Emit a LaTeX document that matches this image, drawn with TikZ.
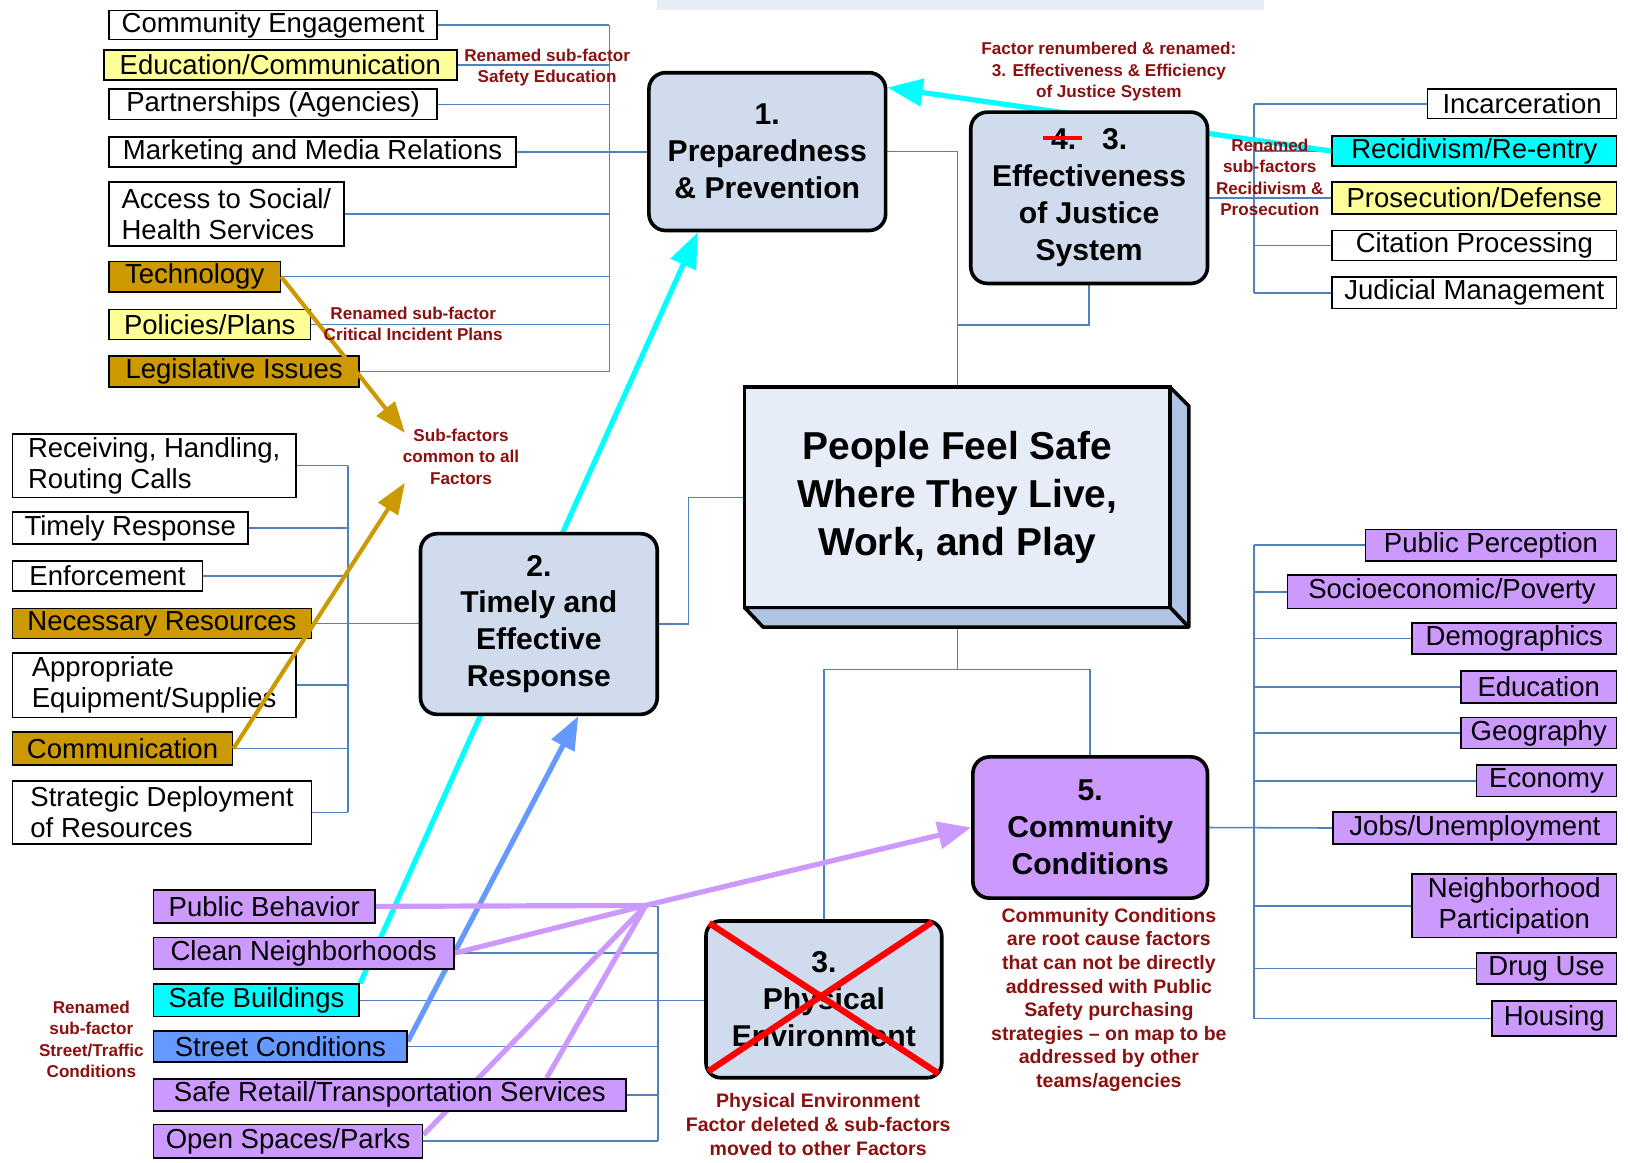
\documentclass[tikz,border=0pt]{standalone}
\usepackage{fontspec}
\setmainfont{Liberation Sans}
\usetikzlibrary{arrows.meta,calc}
\pgfdeclarelayer{bg}
\pgfsetlayers{bg,main}
\definecolor{connc}{HTML}{4F81BD}
\definecolor{yel}{HTML}{FFFF99}
\definecolor{gold}{HTML}{CC9900}
\definecolor{cyanc}{HTML}{00FFFF}
\definecolor{sblue}{HTML}{6699FF}
\definecolor{purp}{HTML}{CC99FF}
\definecolor{facfill}{HTML}{D0DCED}
\definecolor{ctrfill}{HTML}{E7EDF8}
\definecolor{sidec}{HTML}{AFC3E4}
\definecolor{notec}{HTML}{8B1010}
\definecolor{strikec}{HTML}{FF0000}
\newcommand{\mysubfont}{\fontsize{26.5}{30}\selectfont}
\newcommand{\myfacfont}{\fontsize{29}{35.5}\selectfont\bfseries}
\newcommand{\myctrfont}{\fontsize{37.5}{46}\selectfont\bfseries}
\newcommand{\mynotefont}{\fontsize{16.5}{20.7}\selectfont\bfseries}
\newcommand{\mybignotefont}{\fontsize{18.8}{22.7}\selectfont\bfseries}
\tikzset{
  sbx/.style={draw=black, line width=1.6pt, inner sep=0pt, font=\mysubfont, align=center},
  facbox/.style={draw=black, line width=3.5pt, rounded corners=16pt, font=\myfacfont, align=center},
  cline/.style={draw=connc, line width=1.5pt},
  rednote/.style={text=notec, font=\mynotefont, align=center, inner sep=0pt},
  bignote/.style={text=notec, font=\mybignotefont, align=center, inner sep=0pt},
  cyanarrow/.style={draw=cyanc, line width=5pt, -{Triangle[length=34pt,width=26pt]}},
  bluearrow/.style={draw=sblue, line width=5pt, -{Triangle[length=32pt,width=24pt]}},
  purpline/.style={draw=purp, line width=5pt},
  purparrow/.style={draw=purp, line width=5pt, -{Triangle[length=32pt,width=26pt]}},
  goldarrow/.style={draw=gold, line width=4pt, -{Triangle[length=30pt,width=22pt]}},
}
\newcommand{\mybox}[8][]{%
  \pgfmathsetmacro\mbW{#5-#3}%
  \pgfmathsetmacro\mbH{#6-#4}%
  \pgfmathsetmacro\mbX{(#3+#5)/2}%
  \pgfmathsetmacro\mbY{(#4+#6)/2}%
  \node[sbx, fill=#7, minimum width=\mbW pt, minimum height=\mbH pt, #1] (#2) at (\mbX,\mbY) {#8};}
\begin{document}
\begin{tikzpicture}[x=1pt,y=-1pt]
\useasboundingbox (0,0) rectangle (1568,1120);
\fill[ctrfill] (633,0) rectangle (1217,10);

% ---- factor boxes
\mybox[facbox]{f1}{625}{70}{853}{222}{facfill}{1.\\Preparedness\\\& Prevention}
\mybox[facbox]{f2}{405}{514}{633}{688}{facfill}{2.\\Timely and\\Effective\\Response}
\mybox[facbox]{f3}{935}{108}{1163}{273}{facfill}{4.\makebox[0pt][l]{\hspace*{-32pt}\textcolor{strikec}{\rule[10pt]{38pt}{3pt}}}\hspace*{25pt}3.\\Effectiveness\\of Justice\\System}
\mybox[facbox]{cc}{937}{729}{1163}{865}{purp}{5.\\Community\\Conditions}
\mybox[facbox, rounded corners=14pt]{pe}{680}{887}{907}{1038}{facfill}{3.\\Physical\\Environment}
\draw[strikec, line width=6pt] (683,889) -- (904,1034);
\draw[strikec, line width=6pt] (898,888) -- (682,1032);

% ---- centre box with depth
\filldraw[fill=sidec, draw=black, line width=3.5pt, line join=round] (1127,373) -- (1145,391) -- (1145,604) -- (735,604) -- (717,585) -- (1127,585) -- cycle;
\draw[black, line width=3.5pt] (1127,585) -- (1145,604);
\mybox[line width=3.5pt, font=\myctrfont]{ctr}{717}{373}{1127}{585}{ctrfill}{People Feel Safe\\Where They Live,\\Work, and Play}

% ---- sub-factors of factor 1
\mybox{ce}{105}{10}{421}{38}{white}{Community Engagement}
\mybox{ec}{100}{48}{440}{77}{yel}{Education/Communication}
\mybox{pa}{105}{86}{421}{115}{white}{Partnerships (Agencies)}
\mybox{mm}{105}{132}{497}{161}{white}{Marketing and Media Relations}
\mybox[align=left]{as}{105}{175}{331}{237}{white}{Access to Social/\\Health Services}
\mybox{te}{105}{252}{270}{281}{gold}{Technology}
\mybox{pp}{105}{298}{299}{327}{yel}{Policies/Plans}
\mybox{li}{105}{343}{346}{373}{gold}{Legislative Issues}

% ---- sub-factors of factor 2
\mybox[align=left]{rh}{12}{418}{285}{479}{white}{Receiving, Handling,\\Routing Calls}
\mybox{tr}{12}{493}{239}{524}{white}{Timely Response}
\mybox{en}{12}{540}{195}{569}{white}{Enforcement}
\mybox{nr}{12}{586}{300}{615}{gold}{Necessary Resources}
\mybox[align=left]{ae}{12}{629}{285}{691}{white}{Appropriate\\Equipment/Supplies}
\mybox{co}{12}{705}{224}{737}{gold}{Communication}
\mybox[align=left]{sd}{12}{752}{300}{813}{white}{Strategic Deployment\\of Resources}

% ---- former physical environment sub-factors
\mybox{pb}{148}{857}{361}{889}{purp}{Public Behavior}
\mybox{cn}{148}{903}{437}{933}{purp}{Clean Neighborhoods}
\mybox{sb}{148}{948}{346}{979}{cyanc}{Safe Buildings}
\mybox{sc}{148}{993}{392}{1023}{sblue}{Street Conditions}
\mybox{sr}{148}{1039}{603}{1070}{purp}{Safe Retail/Transportation Services}
\mybox{os}{148}{1083}{407}{1115}{purp}{Open Spaces/Parks}

% ---- sub-factors of justice system
\mybox{ic}{1375}{86}{1557}{114}{white}{Incarceration}
\mybox{rr}{1283}{131}{1557}{160}{cyanc}{Recidivism/Re-entry}
\mybox{pd}{1283}{175}{1557}{206}{yel}{Prosecution/Defense}
\mybox{cp}{1283}{222}{1557}{251}{white}{Citation Processing}
\mybox{jm}{1283}{267}{1557}{297}{white}{Judicial Management}

% ---- sub-factors of community conditions
\mybox{pu}{1315}{510}{1557}{540}{purp}{Public Perception}
\mybox{sp}{1240}{554}{1557}{586}{purp}{Socioeconomic/Poverty}
\mybox{de}{1360}{600}{1557}{630}{purp}{Demographics}
\mybox{ed}{1407}{646}{1557}{677}{purp}{Education}
\mybox{ge}{1407}{691}{1557}{721}{purp}{Geography}
\mybox{eo}{1422}{737}{1557}{767}{purp}{Economy}
\mybox{ju}{1284}{782}{1557}{813}{purp}{Jobs/Unemployment}
\mybox{np}{1360}{842}{1557}{903}{purp}{Neighborhood\\Participation}
\mybox{du}{1422}{918}{1557}{948}{purp}{Drug Use}
\mybox{ho}{1437}{964}{1557}{998}{purp}{Housing}

% ---- helper coordinates
\coordinate (b1) at (587,0);
\coordinate (b2) at (335,0);
\coordinate (b3) at (1208,0);
\coordinate (b4) at (634,0);
\coordinate (j1) at (922,645);
\coordinate (j2) at (922,313);
\coordinate (j3) at (663,479);
\coordinate (P) at (622,872);
\coordinate (gt1) at (390,417);
\coordinate (gt2) at (390,465);

\begin{pgfonlayer}{bg}
  % thin connectors
  \foreach \n in {ce,ec,pa,as,te,pp,li} \draw[cline] (\n.east) -- (\n.east -| b1);
  \draw[cline] (ce.east -| b1) -- (li.east -| b1);
  \draw[cline] (mm.east) -- (mm.east -| f1.west);
  \foreach \n in {rh,tr,en,ae,co,sd} \draw[cline] (\n.east) -- (\n.east -| b2);
  \draw[cline] (rh.east -| b2) -- (sd.east -| b2);
  \draw[cline] (nr.east) -- (nr.east -| f2.west);
  \foreach \n in {ic,rr,cp,jm} \draw[cline] (\n.west) -- (\n.west -| b3);
  \draw[cline] (ic.west -| b3) -- (jm.west -| b3);
  \draw[cline] (f3.east) -- (pd.west);
  \foreach \n in {pu,sp,de,ed,ge,eo,np,du,ho} \draw[cline] (\n.west) -- (\n.west -| b3);
  \draw[cline] (pu.west -| b3) -- (ho.west -| b3);
  \draw[cline] (cc.east) -- (ju.west);
  \foreach \n in {pb,cn,sc,sr,os} \draw[cline] (\n.east) -- (\n.east -| b4);
  \draw[cline] (pb.east -| b4) -- (os.east -| b4);
  \draw[cline] (sb.east) -- (sb.east -| pe.west);
  \draw[cline] (f1.east) -| (ctr.north);
  \draw[cline] (f3.south) |- (j2);
  \draw[cline] (f2.east) -| (j3) |- (ctr.west);
  \draw[cline] (ctr.south) -- (j1);
  \draw[cline] (pe.north) |- (j1) -| (cc.north);
  % thick coloured connectors
  \draw[cyanarrow] (sb.north east) -- ([xshift=-67pt]f1.south);
  \draw[cyanarrow] (rr.west) -- ([yshift=-16pt]f1.north east);
  \draw[bluearrow] ([yshift=5pt]sc.east) -- ([xshift=38pt]f2.south);
  \draw[purpline] (pb.east) -- (P);
  \draw[purpline] (cn.east) -- (P);
  \draw[purpline] ([xshift=151pt]sr.north) -- (P);
  \draw[purpline] ([yshift=6pt]os.east) -- (P);
  \draw[purparrow] (P) -- (cc.west);
\end{pgfonlayer}

% ---- gold arrows
\draw[goldarrow] (te.east) -- (gt1);
\draw[goldarrow] (co.east) -- (gt2);

% ---- notes
\node[rednote] (n1) at (527,65) {Renamed sub-factor\\Safety Education};
\node[rednote] (n2) at (398,312) {Renamed sub-factor\\Critical Incident Plans};
\node[rednote] (n3) at (444,440) {Sub-factors\\common to all\\Factors};
\node[rednote] (n4) at (1068,69) {Factor renumbered \& renamed:\\3. Effectiveness \& Efficiency\\of Justice System};
\node[rednote] (n5) at (1223,171) {Renamed\\sub-factors\\Recidivism \&\\Prosecution};
\node[rednote] (n6) at (88,1001) {Renamed\\sub-factor\\Street/Traffic\\Conditions};
\node[bignote] (n7) at (788,1083) {Physical Environment\\Factor deleted \& sub-factors\\moved to other Factors};
\node[bignote] (n8) at (1068,963) {Community Conditions\\are root cause factors\\that can not be directly\\addressed with Public\\Safety purchasing\\strategies – on map to be\\addressed by other\\teams/agencies};
\end{tikzpicture}
\end{document}
